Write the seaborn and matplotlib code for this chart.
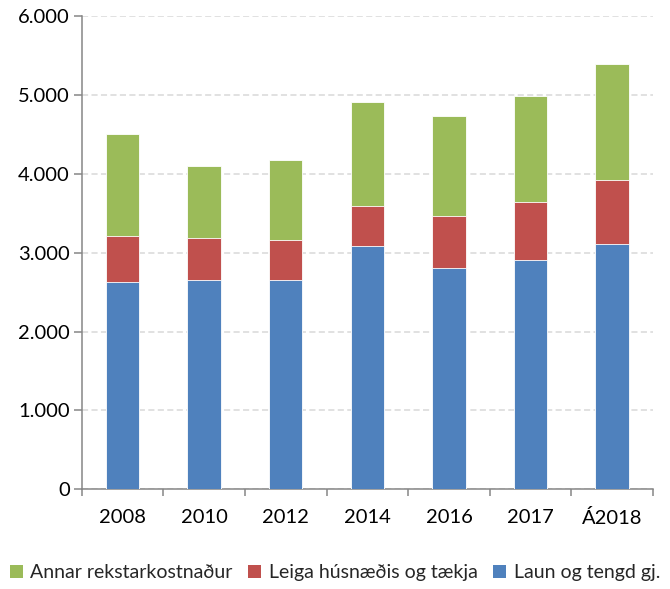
import matplotlib
matplotlib.use("Agg")
import matplotlib.pyplot as plt
import matplotlib.ticker as mticker
from matplotlib.patches import Patch
import seaborn as sns
import pandas as pd
import numpy as np

years = ["2008", "2010", "2012", "2014", "2016", "2017", "Á2018"]
laun = [2630, 2650, 2655, 3085, 2805, 2905, 3110]
leiga = [575, 530, 500, 505, 655, 735, 810]
annar = [1300, 920, 1020, 1320, 1270, 1345, 1475]

series_names = ["Annar rekstarkostnaður", "Leiga húsnæðis og tækja", "Laun og tengd gj."]
colors = {"Annar rekstarkostnaður": "#9BBB59",
          "Leiga húsnæðis og tækja": "#C0504D",
          "Laun og tengd gj.": "#4F81BD"}

df = pd.DataFrame({"year": years, "laun": laun, "leiga": leiga, "annar": annar})
df["lvl_blue"] = df["laun"]
df["lvl_red"] = df["laun"] + df["leiga"]
df["lvl_green"] = df["lvl_red"] + df["annar"]

sns.set_theme(style="white")
plt.rcParams["font.family"] = ["Lato", "DejaVu Sans"]

fig = plt.figure(figsize=(6.7, 5.89), dpi=100)
ax = fig.add_axes([0.122, 0.1693, 0.8526, 0.8035])

bw = 0.41
for col, name in [("lvl_green", series_names[0]), ("lvl_red", series_names[1]), ("lvl_blue", series_names[2])]:
    sns.barplot(data=df, x="year", y=col, color=colors[name], width=bw,
                edgecolor="#FFFFFF", linewidth=0.6, saturation=1, ax=ax, zorder=3)

ax.set_xlim(-0.5, 6.5)
ax.set_ylim(0, 6000)
ax.set_yticks(np.arange(0, 6001, 1000))
ax.yaxis.set_major_formatter(mticker.FuncFormatter(lambda v, p: f"{int(v):,}".replace(",", ".")))
ax.set_xlabel("")
ax.set_ylabel("")

ax.grid(axis="y", color="#D9D9D9", linestyle=(0, (4, 2.2)), linewidth=1.1, zorder=0)
ax.grid(axis="x", visible=False)
ax.set_axisbelow(True)

for s in ["top", "right"]:
    ax.spines[s].set_visible(False)
for s in ["left", "bottom"]:
    ax.spines[s].set_color("#868686")
    ax.spines[s].set_linewidth(1.1)

ax.tick_params(axis="y", which="major", length=5.5, width=1.1, color="#868686",
               labelsize=14.5, labelcolor="#000000", pad=3, direction="out", left=True)
ax.tick_params(axis="x", which="major", length=0, labelsize=14.5, labelcolor="#000000", pad=14)
ax.set_xticks(np.arange(-0.5, 7, 1), minor=True)
ax.tick_params(axis="x", which="minor", length=5, width=1.1, color="#868686", direction="out", bottom=True)

handles = [Patch(facecolor=colors[n], edgecolor="none", label=n) for n in series_names]
fig.legend(handles=handles, loc="center", bbox_to_anchor=(0.5, 0.028), ncol=3,
           frameon=False, fontsize=14, handlelength=0.65, handleheight=0.65,
           handletextpad=0.4, columnspacing=0.8)

fig.savefig("out.png", dpi=100)
